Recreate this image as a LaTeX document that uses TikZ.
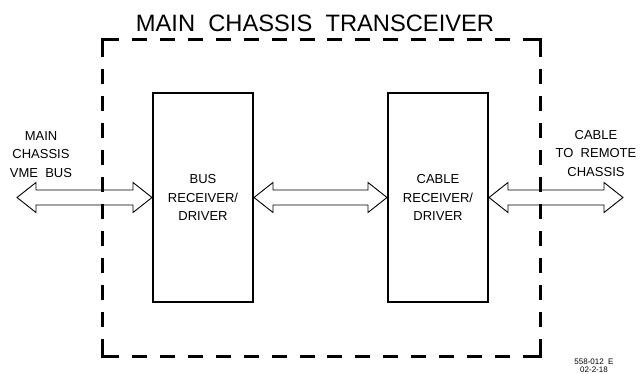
\documentclass[tikz,border=0pt]{standalone}
\usepackage{fontspec}
\setmainfont{Liberation Sans}
\usetikzlibrary{calc}
\newcommand\mydblarrow[2]{%
  \draw[arrowline] let \p1=(#1), \p2=(#2) in
    (\x1,\y1) -- (\x1+19pt,\y1+15pt) -- (\x1+19pt,\y1+7.5pt) -- (\x2-19pt,\y1+7.5pt)
    -- (\x2-19pt,\y1+15pt) -- (\x2,\y1) -- (\x2-19pt,\y1-15pt) -- (\x2-19pt,\y1-7.5pt)
    -- (\x1+19pt,\y1-7.5pt) -- (\x1+19pt,\y1-15pt) -- cycle;}
\tikzset{
  unitbox/.style={draw, line width=2pt, minimum width=100pt, minimum height=209pt,
    inner sep=0pt, align=center, font=\fontsize{13}{18.5}\selectfont},
  sidelabel/.style={align=center, inner sep=0pt, font=\fontsize{13}{18.5}\selectfont},
  arrowline/.style={line width=0.9pt, line join=miter},
  frame/.style={line width=3pt, line cap=butt, line join=miter},
}
\begin{document}
\begin{tikzpicture}[x=1pt,y=-1pt]
\useasboundingbox (0,0) rectangle (642,374);
% title
\node[inner sep=0pt, text height=17pt, text depth=0pt,
      font=\fontsize{23.7}{28}\selectfont] (title) at (315,23.5)
  {MAIN\ \ CHASSIS\ \ TRANSCEIVER};
% dashed frame corners
\draw[frame] (102,57) -- (102,40) -- (119,40);
\draw[frame] (523,40) -- (540,40) -- (540,57);
\draw[frame] (540,339) -- (540,356) -- (523,356);
\draw[frame] (119,356) -- (102,356) -- (102,339);
% dashed frame sides
\foreach \i in {0,...,13} {
  \draw[frame] ({131.93+\i*27.93},40) -- ++(15,0);
  \draw[frame] ({131.93+\i*27.93},356) -- ++(15,0);
}
\foreach \i in {0,...,9} {
  \draw[frame] (102,{69+\i*27}) -- ++(0,15);
  \draw[frame] (540,{69+\i*27}) -- ++(0,15);
}
% boxes
\node[unitbox] (bus) at (203,197.5) {BUS\\RECEIVER/\\DRIVER};
\node[unitbox] (cable) at (438,197.5) {CABLE\\RECEIVER/\\DRIVER};
% free ends
\coordinate (lend) at (17,197.5);
\coordinate (rend) at (623,197.5);
% arrows
\mydblarrow{lend}{bus.west}
\mydblarrow{bus.east}{cable.west}
\mydblarrow{cable.east}{rend}
% side labels
\node[sidelabel] (vme) at (41,154.5) {MAIN\\CHASSIS\\VME\ \ BUS};
\node[sidelabel] (remote) at (596,153.5) {CABLE\\TO\ \ REMOTE\\CHASSIS};
% drawing number
\node[align=center, inner sep=0pt, font=\fontsize{8}{7.5}\selectfont] (dwg) at (594,365.5)
  {558-012\ \ E\\02-2-18};
\end{tikzpicture}
\end{document}
